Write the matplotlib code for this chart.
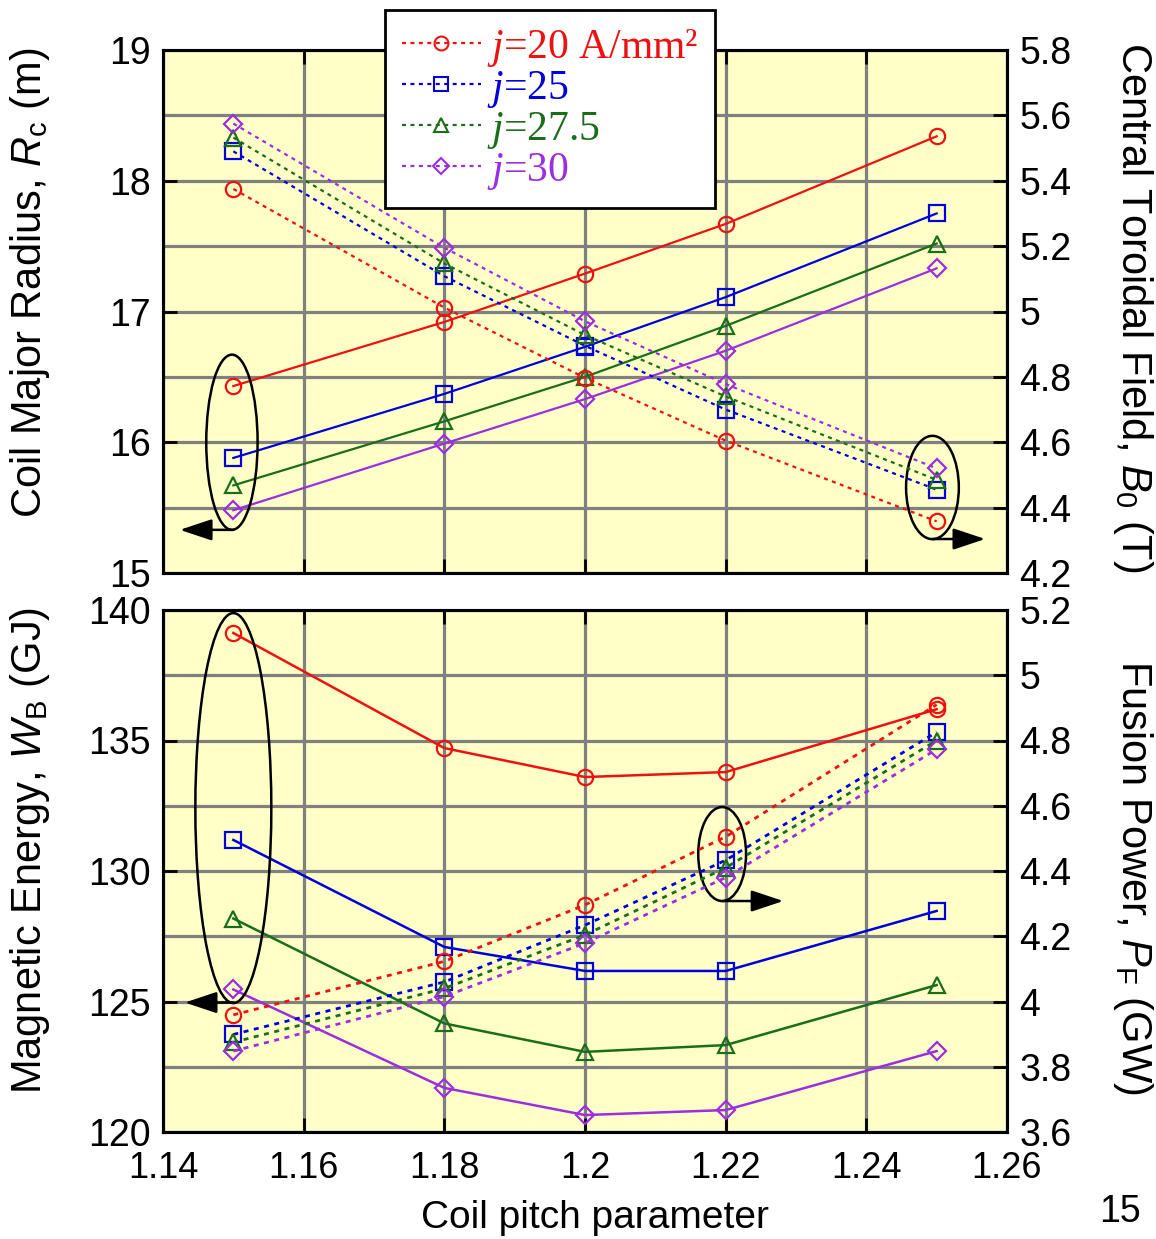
import matplotlib
matplotlib.use("Agg")
import matplotlib.pyplot as plt
from matplotlib.patches import Ellipse
from matplotlib.lines import Line2D
import numpy as np

# ---------------- data ----------------
pitch = [1.15, 1.18, 1.20, 1.22, 1.25]
labels = ["20 A/mm²", "25", "27.5", "30"]

Rc_20 = [16.43, 16.92, 17.29, 17.67, 18.34]
Rc_25 = [15.88, 16.37, 16.73, 17.11, 17.75]
Rc_275 = [15.67, 16.16, 16.50, 16.89, 17.52]
Rc_30 = [15.48, 15.99, 16.33, 16.70, 17.33]

B0_20 = [5.375, 5.012, 4.797, 4.605, 4.358]
B0_25 = [5.490, 5.108, 4.895, 4.700, 4.455]
B0_275 = [5.532, 5.147, 4.928, 4.740, 4.485]
B0_30 = [5.575, 5.195, 4.970, 4.778, 4.520]

WB_20 = [139.12, 134.71, 133.60, 133.79, 136.20]
WB_25 = [131.19, 127.09, 126.17, 126.17, 128.47]
WB_275 = [128.18, 124.16, 123.07, 123.33, 125.63]
WB_30 = [125.46, 121.69, 120.65, 120.84, 123.10]

PF_20 = [3.959, 4.123, 4.296, 4.505, 4.910]
PF_25 = [3.899, 4.060, 4.234, 4.433, 4.826]
PF_275 = [3.875, 4.040, 4.204, 4.410, 4.800]
PF_30 = [3.848, 4.015, 4.179, 4.380, 4.773]

x_ticks = [1.14, 1.16, 1.18, 1.20, 1.22, 1.24, 1.26]
x_ticklabels = ["1.14", "1.16", "1.18", "1.2", "1.22", "1.24", "1.26"]
Rc_ticks = [15, 16, 17, 18, 19]
B0_ticks = [4.2, 4.4, 4.6, 4.8, 5.0, 5.2, 5.4, 5.6, 5.8]
B0_ticklabels = ["4.2", "4.4", "4.6", "4.8", "5", "5.2", "5.4", "5.6", "5.8"]
WB_ticks = [120, 125, 130, 135, 140]
PF_ticks = [3.6, 3.8, 4.0, 4.2, 4.4, 4.6, 4.8, 5.0, 5.2]
PF_ticklabels = ["3.6", "3.8", "4", "4.2", "4.4", "4.6", "4.8", "5", "5.2"]

# ---------------- style ----------------
colors = ["#ee1111", "#0000dd", "#1a6e1a", "#9a2ee0"]
markers = ["o", "s", "^", "D"]
msizes = [11, 11, 11, 9]
bg = "#ffffc8"
gridc = "#808080"

plt.rcParams["font.family"] = ["Liberation Sans", "DejaVu Sans"]
plt.rcParams["mathtext.fontset"] = "custom"
plt.rcParams["mathtext.rm"] = "Liberation Sans"
plt.rcParams["mathtext.it"] = "Liberation Sans:italic"
plt.rcParams["mathtext.cal"] = "Liberation Serif:italic"

FS = 27
LFS = 30

fig = plt.figure(figsize=(11.56, 12.39), dpi=100)
W, H = 1156, 1239


def axes_px(l, t, r, b):
    return fig.add_axes([l / W, 1 - b / H, (r - l) / W, (b - t) / H])


ax1 = axes_px(163, 50, 1007, 573)
ax3 = axes_px(163, 610, 1007, 1132)
ax2 = ax1.twinx()
ax4 = ax3.twinx()

Rc = [Rc_20, Rc_25, Rc_275, Rc_30]
B0 = [B0_20, B0_25, B0_275, B0_30]
WB = [WB_20, WB_25, WB_275, WB_30]
PF = [PF_20, PF_25, PF_275, PF_30]

dash = (0, (1.8, 2.0))

for i in range(4):
    kw = dict(color=colors[i], marker=markers[i], markersize=msizes[i],
              markerfacecolor="none", markeredgewidth=1.6)
    ax1.plot(pitch, Rc[i], linestyle="-", linewidth=1.6, **kw)
    ax2.plot(pitch, B0[i], linestyle=dash, linewidth=1.6, **kw)
    ax3.plot(pitch, WB[i], linestyle="-", linewidth=1.8, **kw)
    ax4.plot(pitch, PF[i], linestyle=dash, linewidth=2.0, **kw)

for ax, lim, ticks in [(ax1, (15, 19), Rc_ticks), (ax3, (120, 140), WB_ticks)]:
    ax.set_facecolor(bg)
    ax.set_xlim(1.14, 1.26)
    ax.set_ylim(*lim)
    ax.set_yticks(ticks)
    step = (ticks[1] - ticks[0]) / 2
    ax.set_yticks(np.arange(lim[0] + step, lim[1], 2 * step), minor=True)
    ax.set_xticks(x_ticks)
    ax.set_axisbelow(True)
    ax.grid(True, which="both", color=gridc, linewidth=2.3)
    ax.tick_params(axis="y", which="major", direction="in", length=10, width=2,
                   labelsize=FS, pad=9, left=True, right=False)
    ax.tick_params(axis="y", which="minor", length=0)
    ax.tick_params(axis="x", which="major", direction="in", length=10, width=2,
                   top=True, bottom=True, labelsize=26, pad=14)
    for s in ax.spines.values():
        s.set_linewidth(2.2)

ax1.tick_params(axis="x", labelbottom=False)
ax3.set_xticklabels(x_ticklabels)

for ax, lim, ticks, tl in [(ax2, (4.2, 5.8), B0_ticks, B0_ticklabels),
                           (ax4, (3.6, 5.2), PF_ticks, PF_ticklabels)]:
    ax.set_ylim(*lim)
    ax.set_yticks(ticks)
    ax.set_yticklabels(tl)
    ax.tick_params(axis="y", direction="in", length=10, width=2, labelsize=FS, pad=9)
    for s in ax.spines.values():
        s.set_linewidth(2.2)

# ---------------- axis labels ----------------
fig.text(30 / W, 1 - 283 / H, r"Coil Major Radius, $R_\mathrm{c}$ (m)", rotation=90,
         ha="center", va="center", fontsize=LFS)
fig.text(30 / W, 1 - 850 / H, r"Magnetic Energy, $W_\mathrm{B}$ (GJ)", rotation=90,
         ha="center", va="center", fontsize=LFS)
fig.text(1133 / W, 1 - 307 / H, r"Central Toroidal Field, $B_0$ (T)", rotation=270,
         ha="center", va="center", fontsize=LFS)
fig.text(1133 / W, 1 - 877 / H, r"Fusion Power, $P_\mathrm{F}$ (GW)", rotation=270,
         ha="center", va="center", fontsize=LFS)
fig.text(595 / W, 1 - 1218 / H, "Coil pitch parameter", ha="center", va="center",
         fontsize=28)
fig.text(1120 / W, 1 - 1212 / H, "15", ha="center", va="center", fontsize=FS)

# ---------------- ellipses and arrows ----------------
def ell(ax, cx, cy, w, h):
    ax.add_patch(Ellipse((cx, cy), w, h, fill=False, edgecolor="black",
                         linewidth=1.8, zorder=5))


def arrow(ax, x0, x1, y):
    ax.annotate("", xy=(x1, y), xytext=(x0, y),
                arrowprops=dict(arrowstyle="-|>,head_length=0.9,head_width=0.3",
                                color="black", lw=1.8, shrinkA=0, shrinkB=0,
                                mutation_scale=22),
                zorder=6)


ell(ax1, 1.1498, 16.0, 0.0073, 1.34)
arrow(ax1, 1.15, 1.1424, 15.33)
ell(ax1, 1.2494, 15.654, 0.0075, 0.79)
arrow(ax1, 1.2494, 1.2569, 15.26)
ell(ax3, 1.15, 132.41, 0.0108, 14.94)
arrow(ax3, 1.15, 1.1431, 124.96)
ell(ax3, 1.2195, 130.65, 0.0068, 3.6)
arrow(ax3, 1.2195, 1.2282, 128.85)

# ---------------- legend ----------------
handles = [Line2D([], [], color=colors[i], marker=markers[i], markersize=msizes[i] - 1,
                  markerfacecolor="none", markeredgewidth=1.5, linestyle=dash,
                  linewidth=1.6) for i in range(4)]
leg_labels = [r"$\mathcal{j}$=" + lab for lab in labels]
leg = fig.legend(handles, leg_labels, loc="upper left",
                 bbox_to_anchor=(385 / W, 1 - 10 / H), frameon=True, fancybox=False,
                 edgecolor="black", facecolor="white", framealpha=1,
                 prop={"family": ["Liberation Serif"], "size": 30},
                 labelcolor="linecolor", handlelength=1.9, handletextpad=0.15,
                 labelspacing=0.0, borderpad=0.4, borderaxespad=0)
leg.get_frame().set_linewidth(2.0)

fig.savefig("out.png", dpi=100)
